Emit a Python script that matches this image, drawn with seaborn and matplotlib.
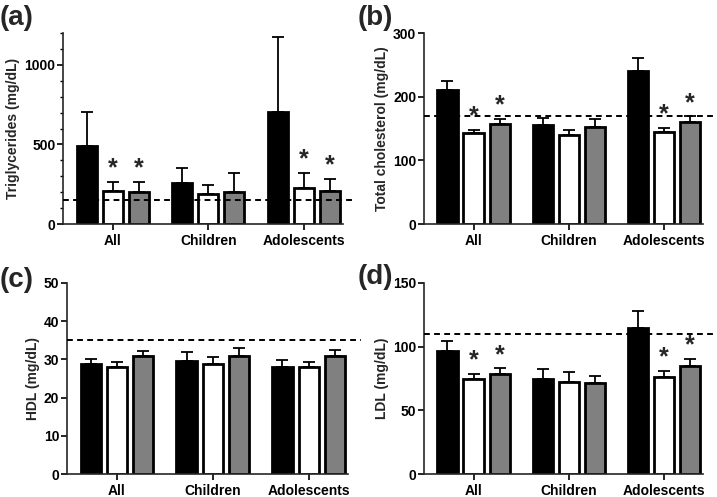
import numpy as np
import pandas as pd
import matplotlib
matplotlib.use('Agg')
import matplotlib.pyplot as plt
import matplotlib.ticker as mticker
import seaborn as sns

# ── data ──────────────────────────────────────────────────────
groups  = ["All", "Children", "Adolescents"]
cohorts = ["Group 1", "Group 2", "Group 3"]   # black, white, gray bars

# rows = groups, cols = cohorts
tg_mean  = [[492, 209, 203], [260, 187, 199], [706, 224, 207]]
tg_err   = [[214, 55, 61], [90, 56, 124], [468, 97, 78]]
tg_sig   = [[0, 1, 1], [0, 0, 0], [0, 1, 1]]

tc_mean  = [[210, 143, 157], [156, 139.5, 152], [240, 145, 160]]
tc_err   = [[14, 5, 8], [10, 7.5, 13], [20, 6.5, 9]]
tc_sig   = [[0, 1, 1], [0, 0, 0], [0, 1, 1]]

hdl_mean = [[28.8, 28.1, 30.8], [29.5, 28.8, 30.8], [28.1, 28.0, 30.8]]
hdl_err  = [[1.3, 1.2, 1.4], [2.5, 1.8, 2.2], [1.7, 1.2, 1.6]]
hdl_sig  = [[0, 0, 0], [0, 0, 0], [0, 0, 0]]

ldl_mean = [[96.4, 74.6, 78.6], [74.4, 72.5, 71.2], [115, 76.2, 84.6]]
ldl_err  = [[8.3, 4.0, 4.4], [8.3, 7.4, 5.5], [12.8, 4.7, 6.0]]
ldl_sig  = [[0, 1, 1], [0, 0, 0], [0, 1, 1]]

thresholds = [150, 170, 35, 110]
ylabels = ["Triglycerides (mg/dL)", "Total cholesterol (mg/dL)",
           "HDL (mg/dL)", "LDL (mg/dL)"]
ylims   = [1200, 300, 50, 150]
ymajor  = [500, 100, 10, 50]
panel_tags = ["(a)", "(b)", "(c)", "(d)"]

COLORS = ["#000000", "#FFFFFF", "#808080"]

sns.set_style("ticks")
plt.rcParams.update({
    'font.family': ['Liberation Sans', 'DejaVu Sans'],
    'font.weight': 'bold',
    'axes.labelweight': 'bold',
    'axes.linewidth': 1.2,
    'xtick.major.width': 1.2, 'ytick.major.width': 1.2,
    'ytick.minor.width': 1.0,
    'xtick.major.size': 4, 'ytick.major.size': 4, 'ytick.minor.size': 2.5,
    'xtick.major.pad': 3, 'ytick.major.pad': 1.5,
    'xtick.color': 'black', 'ytick.color': 'black',
    'xtick.labelsize': 10, 'ytick.labelsize': 10,
})


def long_df(means, errs, sigs):
    rows = []
    for g, m_row, e_row, s_row in zip(groups, means, errs, sigs):
        for c, m, e, s in zip(cohorts, m_row, e_row, s_row):
            rows.append(dict(group=g, cohort=c, value=m, err=e, sig=s))
    return pd.DataFrame(rows)


fig = plt.figure(figsize=(7.17, 4.97), dpi=100)
W, H = 717, 497
boxes = [(63, 33, 280, 191), (424, 33, 279, 191),
         (67, 283, 281, 191), (424, 283, 279, 191)]
tag_xy = [(0, 18), (358, 18), (0, 280), (358, 277)]

datasets = [(tg_mean, tg_err, tg_sig), (tc_mean, tc_err, tc_sig),
            (hdl_mean, hdl_err, hdl_sig), (ldl_mean, ldl_err, ldl_sig)]

for k, (means, errs, sigs) in enumerate(datasets):
    x0, y0, w, h = boxes[k]
    ax = fig.add_axes([x0 / W, 1 - (y0 + h) / H, w / W, h / H])
    df = long_df(means, errs, sigs)
    sns.barplot(data=df, x='group', y='value', hue='cohort',
                order=groups, hue_order=cohorts, palette=COLORS,
                edgecolor='black', linewidth=2.0, width=0.82, gap=0.23,
                errorbar=None, legend=False, ax=ax, zorder=2)

    bar_conts = list(ax.containers)
    for ci, cont in enumerate(bar_conts):
        sub = df[df['cohort'] == cohorts[ci]].set_index('group').loc[groups]
        xs = [b.get_x() + b.get_width() / 2 for b in cont]
        ys = sub['value'].to_numpy()
        up = sub['err'].to_numpy()
        ax.errorbar(xs, ys, yerr=[np.zeros_like(up), up], fmt='none',
                    ecolor='black', elinewidth=1.3, capsize=4.5,
                    capthick=1.3, zorder=1)
        for x, y, e, s in zip(xs, ys, up, sub['sig']):
            if s:
                ax.annotate('*', (x, y + e), xytext=(0, 1),
                            textcoords='offset points', ha='center',
                            va='bottom', fontsize=18, fontweight='bold')

    ax.axhline(thresholds[k], xmin=0, xmax=1.045 if k % 2 == 0 else 1.05,
               color='black', linestyle=(0, (3, 2.2)), linewidth=1.4,
               clip_on=False, zorder=3)

    ax.set_xlim(-0.52, 2.41)
    ax.set_ylim(0, ylims[k])
    ax.yaxis.set_major_locator(mticker.MultipleLocator(ymajor[k]))
    if k == 0:
        ax.yaxis.set_minor_locator(mticker.MultipleLocator(100))
    ax.set_xlabel('')
    ax.set_ylabel(ylabels[k], fontsize=10, fontweight='bold', labelpad=3)
    for lab in ax.get_xticklabels() + ax.get_yticklabels():
        lab.set_fontweight('bold')
    sns.despine(ax=ax)

    fig.text(tag_xy[k][0] / W, 1 - tag_xy[k][1] / H, panel_tags[k],
             fontsize=20, fontweight='bold', va='center', ha='left')

plt.savefig('out.png', dpi=100)
